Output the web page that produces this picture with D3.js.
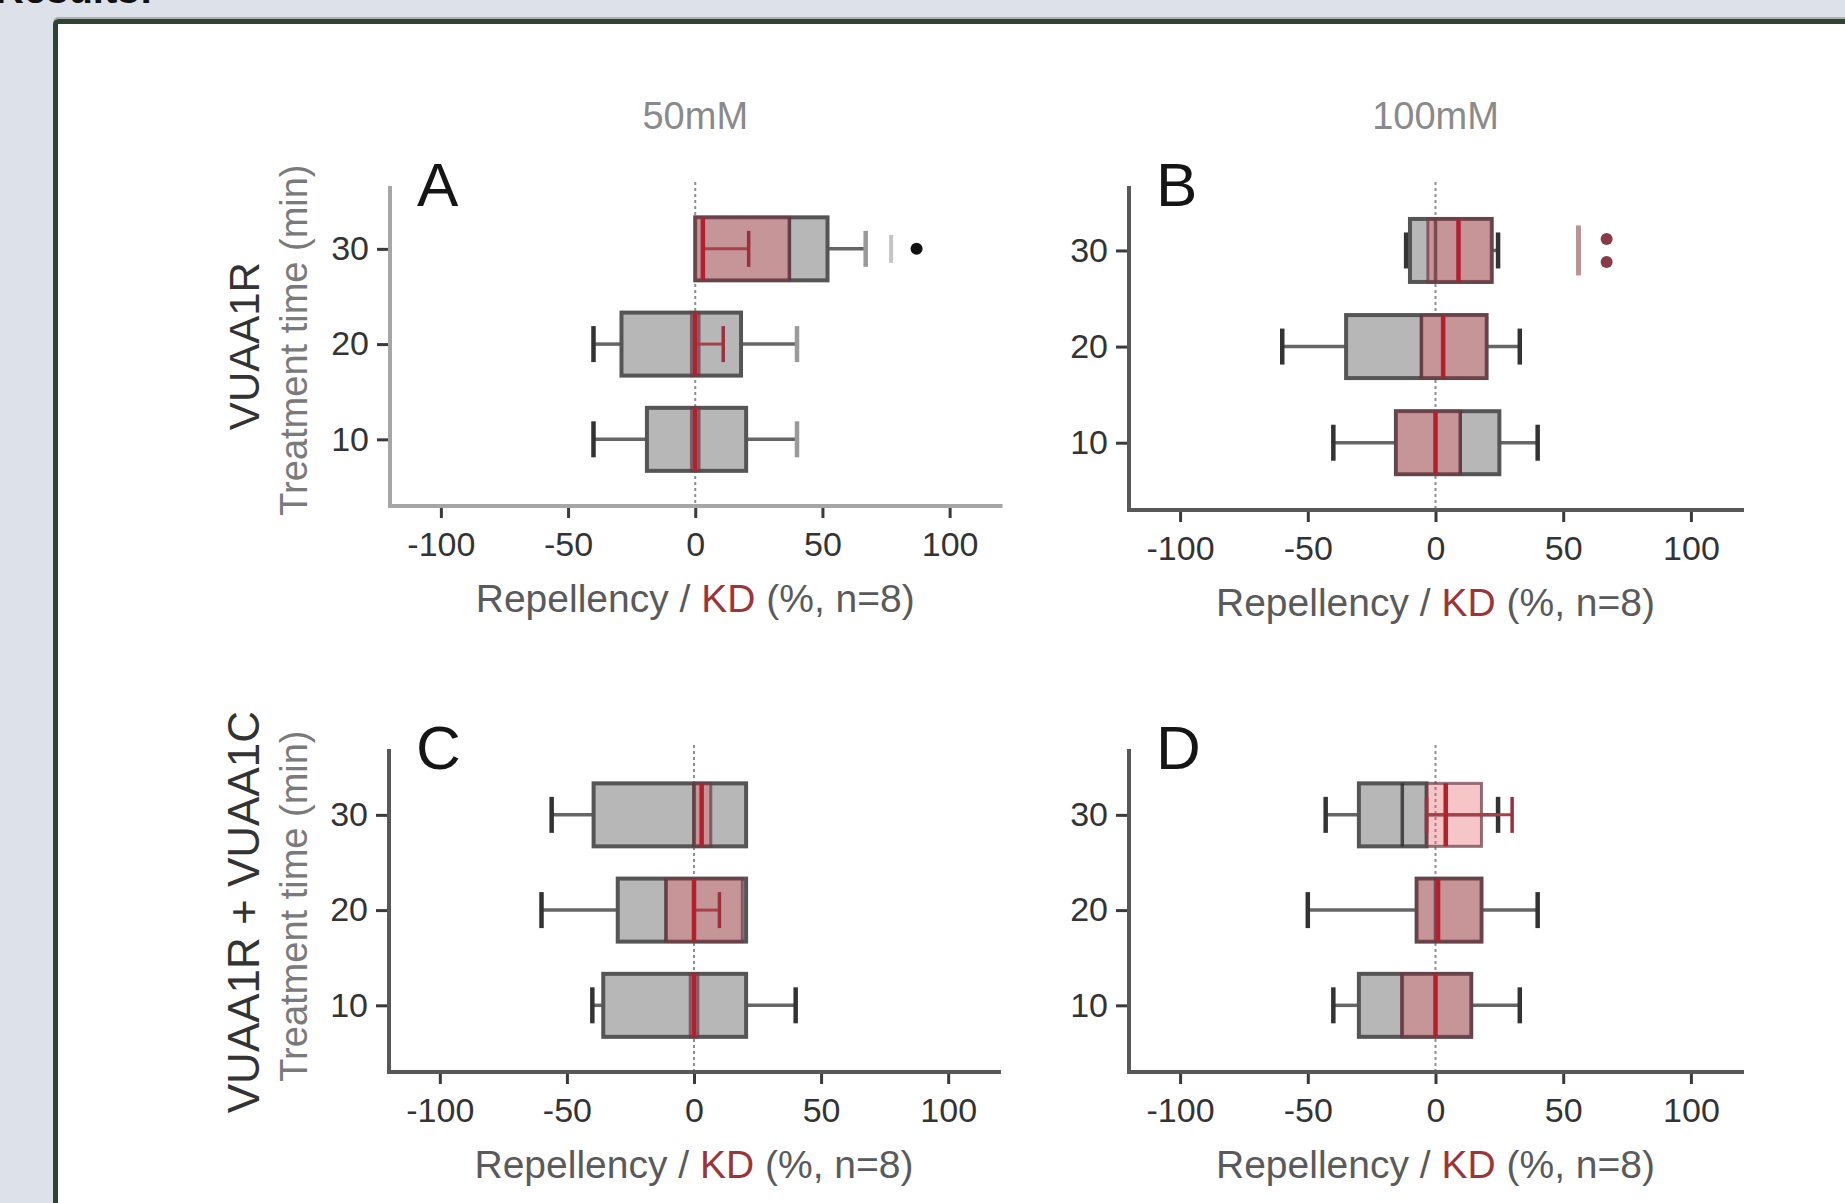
<!DOCTYPE html>
<html><head><meta charset="utf-8">
<script src="https://cdn.jsdelivr.net/npm/d3@7"></script>
<style>
html,body{margin:0;padding:0;background:#dde1e9;overflow:hidden;}
svg{display:block;font-family:"Liberation Sans",Arial,sans-serif;}
</style></head><body>
<svg id="chart" width="1845" height="1203"></svg>
<script>
// ---------- data ----------
const concentrations = ["50mM", "100mM"];
const treatments = ["VUAA1R", "VUAA1R + VUAA1C"];
const yAxisSubtitle = "Treatment time (min)";
const panelLetters = ["A", "B", "C", "D"];
const times = [30, 20, 10];
const xTickValues = [-100, -50, 0, 50, 100];
const yTickValues = [10, 20, 30];
const xDomain = [-120, 120];
const yDomain = [3, 36.6];

// Repellency (grey boxes) and KD (red boxes), rows ordered as times
const repA = [
  {t: 30, lo: 0,   q1: 0,   med: 37, q3: 52, hi: 67, out: [87], faint: [77]},
  {t: 20, lo: -40, q1: -29, med: 0,  q3: 18, hi: 40, out: [], faint: []},
  {t: 10, lo: -40, q1: -19, med: 0,  q3: 20, hi: 40, out: [], faint: []}
];
const kdA = [
  {t: 30, lo: 3, q1: 0,    med: 3, q3: 37,  hi: 21, out: [], faint: []},
  {t: 20, lo: 0, q1: -1.5, med: 0, q3: 1.5, hi: 11, out: [], faint: []},
  {t: 10, lo: 0, q1: -1.5, med: 0, q3: 1.5, hi: 0,  out: [], faint: []}
];
const repB = [
  {t: 30, lo: -11.5, q1: -10,   med: 0,    q3: 22, hi: 24.5, out: [], faint: []},
  {t: 20, lo: -60,   q1: -35,   med: -5.5, q3: 20, hi: 33,   out: [], faint: []},
  {t: 10, lo: -40,   q1: -15.5, med: 9.7,  q3: 25, hi: 40,   out: [], faint: []}
];
const kdB = [
  {t: 30, lo: 9, q1: -3,    med: 9, q3: 22,  hi: 9, out: [67, 67], faint: [56]},
  {t: 20, lo: 3, q1: -5.5,  med: 3, q3: 20,  hi: 3, out: [], faint: []},
  {t: 10, lo: 0, q1: -15.5, med: 0, q3: 9.7, hi: 0, out: [], faint: []}
];
const repC = [
  {t: 30, lo: -56, q1: -39.5, med: 0,   q3: 20.5, hi: 20.5, out: [], faint: []},
  {t: 20, lo: -60, q1: -30,   med: -11, q3: 20.5, hi: 20.5, out: [], faint: []},
  {t: 10, lo: -40, q1: -35.7, med: 0,   q3: 20.5, hi: 40,   out: [], faint: []}
];
const kdC = [
  {t: 30, lo: 0, q1: 0,    med: 3, q3: 6.6, hi: 0,  out: [], faint: []},
  {t: 20, lo: 0, q1: -11,  med: 0, q3: 19,  hi: 10, out: [], faint: []},
  {t: 10, lo: 0, q1: -1.5, med: 0, q3: 1.5, hi: 0,  out: [], faint: []}
];
const repD = [
  {t: 30, lo: -43, q1: -30,  med: -13, q3: -3.5, hi: 24.5, out: [], faint: []},
  {t: 20, lo: -50, q1: -7.4, med: 0,   q3: 18,   hi: 40,   out: [], faint: []},
  {t: 10, lo: -40, q1: -30,  med: -13, q3: 14,   hi: 33,   out: [], faint: []}
];
const kdD = [
  {t: 30, lo: -3.5, q1: -3.5,  med: 4, q3: 18, hi: 30, out: [], faint: []},
  {t: 20, lo: 1,    q1: -7.4,  med: 1, q3: 18, hi: 1,  out: [], faint: []},
  {t: 10, lo: 0,    q1: -13.3, med: 0, q3: 14, hi: 0,  out: [], faint: []}
];
const repSeries = [repA, repB, repC, repD];
const kdSeries = [kdA, kdB, kdC, kdD];

// ---------- layout (styles / positions) ----------
const layout = [
  {x0: 390,  x1: 1000.5, yBot: 506,  yTop: 186, axisTop: 186, axisColor: "#a6a6a6"},
  {x0: 1129, x1: 1742,   yBot: 510,  yTop: 187, axisTop: 186, axisColor: "#585858"},
  {x0: 389,  x1: 999,    yBot: 1072, yTop: 752, axisTop: 749, axisColor: "#585858"},
  {x0: 1129, x1: 1742,   yBot: 1072, yTop: 752, axisTop: 749, axisColor: "#585858"}
];
const BOX_HALF = 31.5, CAP_HALF = 18;

const svg = d3.select("#chart");

// "Results:" heading cut at top
svg.append("text").attr("x", -5).attr("y", 3).attr("font-size", 40).attr("font-weight", "bold")
  .attr("fill", "#111").text("Results:");

// White framed panel
svg.append("rect").attr("x", 54).attr("y", 18).attr("width", 2000).attr("height", 2000)
  .attr("fill", "none").attr("stroke", "#9aa39c").attr("stroke-width", 1.5).attr("rx", 4);
svg.append("rect").attr("x", 55.5).attr("y", 21.5).attr("width", 2000).attr("height", 2000)
  .attr("fill", "#fff").attr("stroke", "#2e4430").attr("stroke-width", 5).attr("rx", 3);

// Column headers
concentrations.forEach((c, i) => {
  const L = layout[i];
  const x = d3.scaleLinear().domain(xDomain).range([L.x0, L.x1]);
  svg.append("text").attr("x", x(0)).attr("y", 129).attr("text-anchor", "middle")
    .attr("font-size", 38).attr("fill", "#8a8a8a").text(c);
});

// Row titles (rotated)
treatments.forEach((tr, r) => {
  const L = layout[r * 2];
  const y = d3.scaleLinear().domain(yDomain).range([L.yBot, L.yTop]);
  const cy = y(20) + 2;
  svg.append("text").attr("transform", `translate(259,${cy}) rotate(-90)`)
    .attr("text-anchor", "middle").attr("font-size", r === 0 ? 42 : 44).attr("fill", "#333").text(tr);
  svg.append("text").attr("transform", `translate(307,${cy - 6}) rotate(-90)`)
    .attr("text-anchor", "middle").attr("font-size", 38).attr("fill", "#7a7a7a").text(yAxisSubtitle);
});

panelLetters.forEach((letter, p) => {
  const L = layout[p];
  const x = d3.scaleLinear().domain(xDomain).range([L.x0, L.x1]);
  const y = d3.scaleLinear().domain(yDomain).range([L.yBot, L.yTop]);
  const g = svg.append("g");

  // zero dotted line
  g.append("line").attr("x1", x(0)).attr("x2", x(0)).attr("y1", L.axisTop - 4).attr("y2", L.yBot)
    .attr("stroke", "#8f8f8f").attr("stroke-width", 2).attr("stroke-dasharray", "3,3");

  // Repellency boxes
  repSeries[p].forEach(d => {
    const cy = y(d.t);
    const b = g.append("g");
    if (d.lo < d.q1) {
      b.append("line").attr("x1", x(d.lo)).attr("x2", x(d.q1)).attr("y1", cy).attr("y2", cy)
        .attr("stroke", "#666").attr("stroke-width", 3.5);
      b.append("line").attr("x1", x(d.lo)).attr("x2", x(d.lo)).attr("y1", cy - CAP_HALF).attr("y2", cy + CAP_HALF)
        .attr("stroke", "#333").attr("stroke-width", 4.5);
    }
    if (d.hi > d.q3) {
      b.append("line").attr("x1", x(d.q3)).attr("x2", x(d.hi)).attr("y1", cy).attr("y2", cy)
        .attr("stroke", "#666").attr("stroke-width", 3.5);
      b.append("line").attr("x1", x(d.hi)).attr("x2", x(d.hi)).attr("y1", cy - CAP_HALF).attr("y2", cy + CAP_HALF)
        .attr("stroke", p === 0 ? "#9a9a9a" : "#333").attr("stroke-width", 4.5);
    }
    b.append("rect").attr("x", x(d.q1)).attr("y", cy - BOX_HALF)
      .attr("width", x(d.q3) - x(d.q1)).attr("height", 2 * BOX_HALF)
      .attr("fill", "#b7b7b7").attr("stroke", "#555").attr("stroke-width", 4);
    b.append("line").attr("x1", x(d.med)).attr("x2", x(d.med)).attr("y1", cy - BOX_HALF).attr("y2", cy + BOX_HALF)
      .attr("stroke", "#2a2a2a").attr("stroke-width", 3.5).attr("stroke-opacity", 0.8);
    d.faint.forEach(v => {
      b.append("line").attr("x1", x(v)).attr("x2", x(v)).attr("y1", cy - 14).attr("y2", cy + 14)
        .attr("stroke", "#c4c4c4").attr("stroke-width", 4);
    });
    const counts = d3.rollup(d.out, v => v.length, v => v);
    counts.forEach((n, v) => {
      for (let i = 0; i < n; i++) {
        b.append("circle").attr("cx", x(v)).attr("cy", cy + (i - (n - 1) / 2) * 22).attr("r", 6)
          .attr("fill", "#111");
      }
    });
  });

  // KD overlays
  kdSeries[p].forEach(d => {
    const cy = y(d.t);
    const b = g.append("g");
    b.append("rect").attr("x", x(d.q1)).attr("y", cy - BOX_HALF)
      .attr("width", x(d.q3) - x(d.q1)).attr("height", 2 * BOX_HALF)
      .attr("fill", "rgba(228,84,94,0.34)").attr("stroke", "#6a3a44").attr("stroke-width", 3)
      .attr("stroke-opacity", 0.7);
    if (d.hi !== d.lo) {
      b.append("line").attr("x1", x(d.lo)).attr("x2", x(d.hi)).attr("y1", cy).attr("y2", cy)
        .attr("stroke", "#a8404c").attr("stroke-width", 3);
      [d.lo, d.hi].forEach(v => {
        b.append("line").attr("x1", x(v)).attr("x2", x(v)).attr("y1", cy - CAP_HALF).attr("y2", cy + CAP_HALF)
          .attr("stroke", "#9a3040").attr("stroke-width", 3.5);
      });
    }
    b.append("line").attr("x1", x(d.med)).attr("x2", x(d.med)).attr("y1", cy - BOX_HALF).attr("y2", cy + BOX_HALF)
      .attr("stroke", "#b2202e").attr("stroke-width", 4.5);
    d.faint.forEach(v => {
      b.append("line").attr("x1", x(v)).attr("x2", x(v)).attr("y1", cy - 25).attr("y2", cy + 25)
        .attr("stroke", "#b89494").attr("stroke-width", 5);
    });
    const counts = d3.rollup(d.out, v => v.length, v => v);
    counts.forEach((n, v) => {
      for (let i = 0; i < n; i++) {
        b.append("circle").attr("cx", x(v)).attr("cy", cy + (i - (n - 1) / 2) * 23).attr("r", 6)
          .attr("fill", "#8a3a48");
      }
    });
  });

  // axes
  const xAxis = g.append("g").attr("transform", `translate(0,${L.yBot})`)
    .call(d3.axisBottom(x).tickValues(xTickValues).tickFormat(d => String(d)).tickSize(12).tickPadding(14));
  const yAxis = g.append("g").attr("transform", `translate(${L.x0},0)`)
    .call(d3.axisLeft(y).tickValues(yTickValues).tickFormat(d => String(d)).tickSize(13).tickPadding(8));
  [xAxis, yAxis].forEach(a => {
    a.select(".domain").remove();
    a.selectAll(".tick line").attr("stroke", "#3a3a3a").attr("stroke-width", 3);
    a.selectAll(".tick text").attr("font-size", 34).attr("fill", "#333")
      .attr("font-family", "'Liberation Sans', Arial, sans-serif");
  });
  g.append("path").attr("d", `M${L.x0},${L.axisTop}V${L.yBot}H${L.x1 + 2}`)
    .attr("fill", "none").attr("stroke", L.axisColor).attr("stroke-width", 4);

  // x axis title
  const t = g.append("text").attr("x", x(0)).attr("y", L.yBot + 106).attr("text-anchor", "middle")
    .attr("font-size", 39).attr("fill", "#5a5a5a");
  t.append("tspan").text("Repellency / ");
  t.append("tspan").attr("fill", "#9b3538").text("KD");
  t.append("tspan").text(" (%, n=8)");

  // panel letter
  g.append("text").attr("x", L.x0 + 27).attr("y", L.axisTop + 20).attr("font-size", 62)
    .attr("fill", "#151515").text(letter);
});
</script>
</body></html>
